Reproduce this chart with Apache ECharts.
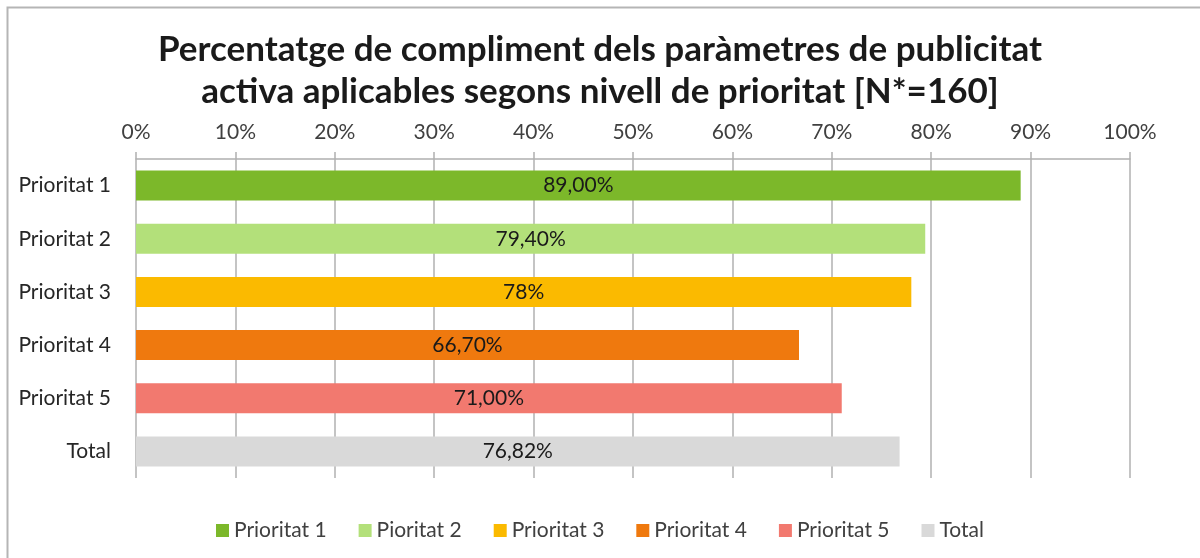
<!DOCTYPE html>
<html>
<head>
<meta charset="utf-8">
<script src="https://cdn.jsdelivr.net/npm/echarts@6/dist/echarts.min.js"></script>
<style>
  html, body { margin: 0; padding: 0; background: #fff; }
  #chart { width: 1200px; height: 558px; }
</style>
</head>
<body>
<div id="chart"></div>
<script>
// dades
var categories = ['Prioritat 1', 'Prioritat 2', 'Prioritat 3', 'Prioritat 4', 'Prioritat 5', 'Total'];
var legendNames = ['Prioritat 1', 'Pioritat 2', 'Prioritat 3', 'Prioritat 4', 'Prioritat 5', 'Total'];
var values = [89.0, 79.4, 78.0, 66.7, 71.0, 76.82];
var valueLabels = ['89,00%', '79,40%', '78%', '66,70%', '71,00%', '76,82%'];
var colors = ['#7cb82a', '#b3e07a', '#fbba00', '#ef790e', '#f2796f', '#d9d9d9'];

var fontFam = 'Lato, "Open Sans", sans-serif';

var chart = echarts.init(document.getElementById('chart'));

var series = categories.map(function (cat, i) {
    var d = categories.map(function (c, j) { return j === i ? values[i] : '-'; });
    return {
        name: legendNames[i],
        type: 'bar',
        stack: 'all',
        barWidth: 30,
        itemStyle: { color: colors[i] },
        label: {
            show: true,
            position: 'inside',
            color: '#1a1a1a',
            fontSize: 21,
            fontFamily: fontFam,
            formatter: function () { return valueLabels[i]; }
        },
        data: d
    };
});

var option = {
    animation: false,
    title: {
        text: 'Percentatge de compliment dels paràmetres de publicitat\nactiva aplicables segons nivell de prioritat [N*=160]',
        left: 'center',
        top: 24,
        textStyle: {
            fontFamily: fontFam,
            fontSize: 35,
            fontWeight: 'bold',
            color: '#1a1a1a',
            lineHeight: 42
        }
    },
    legend: {
        bottom: 12,
        left: 'center',
        itemWidth: 13,
        itemHeight: 13,
        itemGap: 32,
        icon: 'rect',
        textStyle: { fontFamily: fontFam, fontSize: 21, color: '#404040' },
        data: legendNames
    },
    grid: { left: 136, right: 70, top: 159, bottom: 80, containLabel: false },
    xAxis: {
        type: 'value',
        position: 'top',
        min: 0,
        max: 100,
        interval: 10,
        axisLine: { show: true, lineStyle: { color: '#b0b0b0', width: 1.5 } },
        axisTick: { show: true, length: 7, lineStyle: { color: '#b0b0b0', width: 1.5 } },
        axisLabel: {
            formatter: '{value}%',
            fontFamily: fontFam,
            fontSize: 21,
            color: '#404040',
            margin: 16
        },
        splitLine: { show: true, lineStyle: { color: '#b0b0b0', width: 1.5 } }
    },
    yAxis: {
        type: 'category',
        inverse: true,
        data: categories,
        axisLine: { show: false },
        axisTick: { show: false },
        axisLabel: {
            fontFamily: fontFam,
            fontSize: 21,
            color: '#262626',
            margin: 25
        }
    },
    graphic: [{
        type: 'polyline',
        shape: { points: [[7.5, 560], [7.5, 7.5], [1200, 7.5]] },
        style: { stroke: '#b5b5b5', lineWidth: 2, fill: null }
    }],
    series: series
};

chart.setOption(option);
</script>
</body>
</html>
